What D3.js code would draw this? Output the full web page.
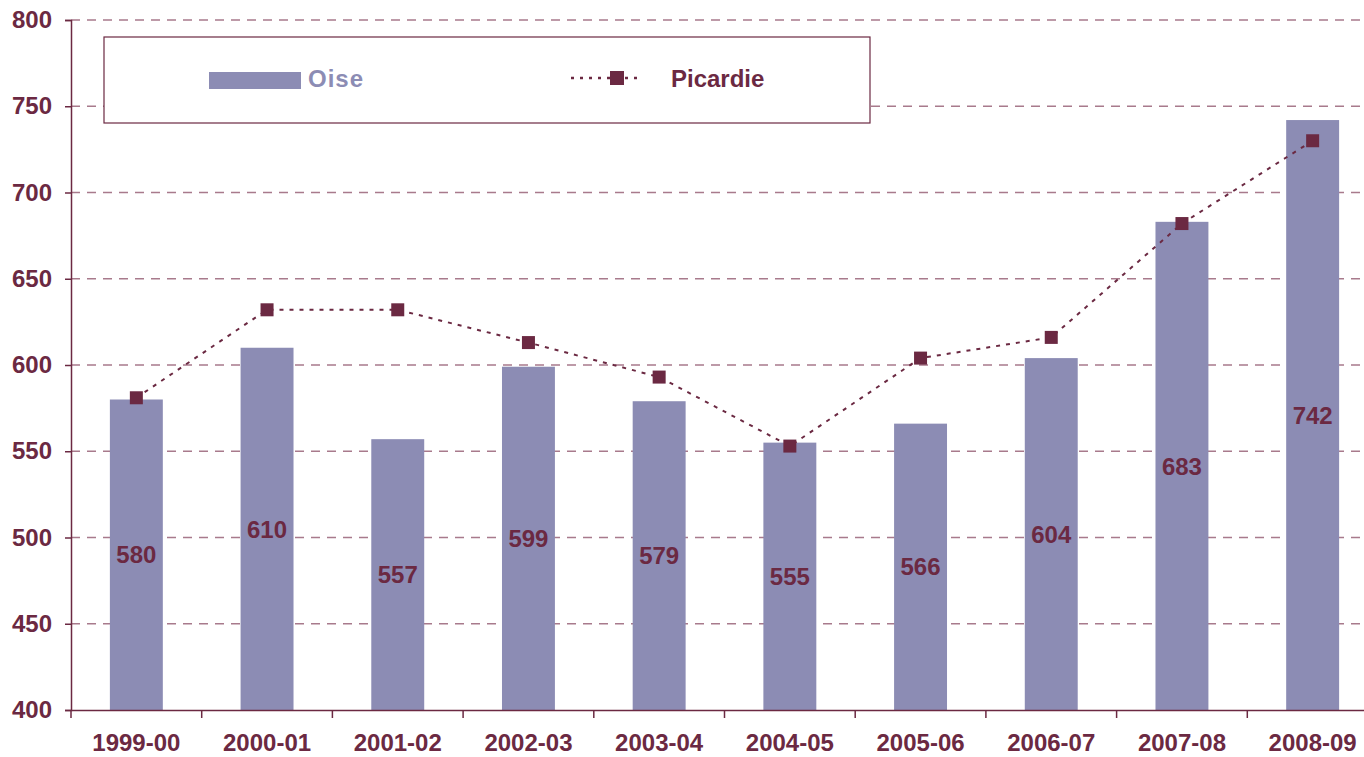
<!DOCTYPE html>
<html>
<head>
<meta charset="utf-8">
<script src="https://cdn.jsdelivr.net/npm/d3@7"></script>
<style>
  body { margin: 0; background: #fff; }
  svg { display: block; font-family: "Liberation Sans", Arial, sans-serif; font-weight: bold; }
</style>
</head>
<body>
<svg id="chart" width="1364" height="757"></svg>
<script>
const years = ['1999-00', '2000-01', '2001-02', '2002-03', '2003-04', '2004-05', '2005-06', '2006-07', '2007-08', '2008-09'];
const oise = [580, 610, 557, 599, 579, 555, 566, 604, 683, 742];
const picardie = [581, 632, 632, 613, 593, 553, 604, 616, 682, 730];
const y_ticks = [400, 450, 500, 550, 600, 650, 700, 750, 800];

const maroon = '#6b2942';
const bar_color = '#8c8cb4';
const grid_color = '#a87a8c';

const svg = d3.select('#chart');
const margin = {top: 20, left: 71, bottom: 47};
const plot_right = 1378; // the chart runs slightly past the window edge
const height = +svg.attr('height') - margin.top - margin.bottom;

const x = d3.scaleBand().domain(years).range([margin.left, plot_right]).padding(0);
const y = d3.scaleLinear().domain([400, 800]).range([margin.top + height, margin.top]);
const bar_w = x.bandwidth() * 0.405;

// gridlines
svg.append('g').selectAll('line')
    .data(y_ticks.slice(1))
    .join('line')
    .attr('x1', margin.left).attr('x2', plot_right)
    .attr('y1', d => y(d)).attr('y2', d => y(d))
    .attr('stroke', grid_color)
    .attr('stroke-width', 1.3)
    .attr('stroke-dasharray', '9,7');

// bars
svg.append('g').selectAll('rect')
    .data(oise)
    .join('rect')
    .attr('x', (d, i) => x(years[i]) + (x.bandwidth() - bar_w) / 2)
    .attr('y', d => y(d))
    .attr('width', bar_w)
    .attr('height', d => y(400) - y(d))
    .attr('fill', bar_color);

// bar labels, centred in the bar
svg.append('g').selectAll('text')
    .data(oise)
    .join('text')
    .attr('x', (d, i) => x(years[i]) + x.bandwidth() / 2)
    .attr('y', d => (y(d) + y(400)) / 2)
    .attr('dy', '0.36em')
    .attr('text-anchor', 'middle')
    .attr('fill', maroon)
    .style('font-size', '24px')
    .text(d => d);

// axes
const y_axis = svg.append('g')
    .attr('transform', `translate(${margin.left},0)`)
    .call(d3.axisLeft(y).tickValues(y_ticks).tickSize(6).tickPadding(13));
const x_axis = svg.append('g')
    .attr('transform', `translate(0,${y(400)})`)
    .call(d3.axisBottom(x).tickSize(0).tickPadding(24));
[y_axis, x_axis].forEach(a => {
    a.select('.domain').attr('stroke', maroon).attr('stroke-width', 1.5);
    a.selectAll('.tick line').attr('stroke', maroon).attr('stroke-width', 1.5);
    a.selectAll('text').attr('fill', maroon).style('font-family', '"Liberation Sans", Arial, sans-serif').style('font-weight', 'bold');
});
y_axis.selectAll('text').style('font-size', '24px');
x_axis.selectAll('text').style('font-size', '24px');

// x ticks between categories
svg.append('g').selectAll('line')
    .data(years)
    .join('line')
    .attr('x1', d => x(d)).attr('x2', d => x(d))
    .attr('y1', y(400)).attr('y2', y(400) + 8)
    .attr('stroke', maroon).attr('stroke-width', 1.5);

// Picardie line
const line = d3.line()
    .x((d, i) => x(years[i]) + x.bandwidth() / 2)
    .y(d => y(d));
svg.append('path')
    .datum(picardie)
    .attr('fill', 'none')
    .attr('stroke', maroon)
    .attr('stroke-width', 2)
    .attr('stroke-dasharray', '4,6')
    .attr('d', line);
svg.append('g').selectAll('rect')
    .data(picardie)
    .join('rect')
    .attr('x', (d, i) => x(years[i]) + x.bandwidth() / 2 - 6.5)
    .attr('y', d => y(d) - 6.5)
    .attr('width', 13).attr('height', 13)
    .attr('fill', maroon);

// legend
const legend = svg.append('g');
legend.append('rect')
    .attr('x', 104).attr('y', 37).attr('width', 766).attr('height', 86)
    .attr('fill', '#fff').attr('stroke', maroon).attr('stroke-width', 1.2);
legend.append('rect')
    .attr('x', 209).attr('y', 72).attr('width', 92).attr('height', 17)
    .attr('fill', bar_color);
legend.append('text')
    .attr('x', 308).attr('y', 87)
    .attr('fill', bar_color)
    .style('font-size', '24px')
    .style('letter-spacing', '1px')
    .text('Oise');
legend.append('line')
    .attr('x1', 571).attr('x2', 642).attr('y1', 78).attr('y2', 78)
    .attr('stroke', maroon).attr('stroke-width', 2.5).attr('stroke-dasharray', '3,6');
legend.append('rect')
    .attr('x', 610).attr('y', 71).attr('width', 14).attr('height', 14)
    .attr('fill', maroon);
legend.append('text')
    .attr('x', 671).attr('y', 87)
    .attr('fill', maroon)
    .style('font-size', '24px')
    .text('Picardie');
</script>
</body>
</html>
